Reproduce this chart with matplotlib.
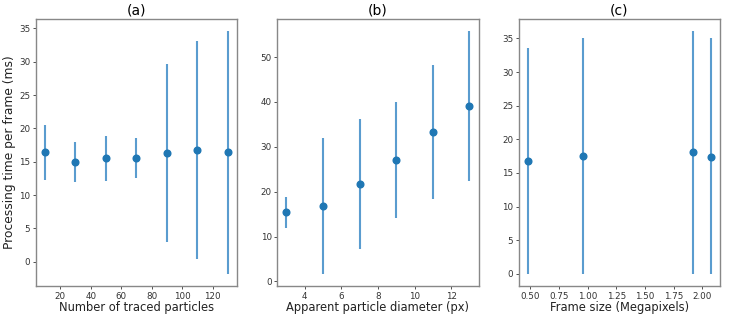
import numpy as np
import matplotlib.pyplot as plt

# (a) number of traced particles
n_particles = [10, 30, 50, 70, 90, 110, 130]
time_a = [16.4, 15.0, 15.5, 15.6, 16.3, 16.75, 16.4]
err_a = [4.15, 3.0, 3.4, 3.0, 13.4, 16.35, 18.2]

# (b) apparent particle diameter
diameter = [3, 5, 7, 9, 11, 13]
time_b = [15.4, 16.8, 21.8, 27.1, 33.3, 39.1]
err_b = [3.4, 15.1, 14.5, 12.9, 15.0, 16.7]

# (c) frame size, lower bars clipped at zero
frame_mp = [0.48, 0.96, 1.92, 2.0736]
time_c = [16.8, 17.55, 18.05, 17.45]
err_c_low = [16.8, 17.55, 18.05, 17.45]
err_c_up = [16.85, 17.5, 18.05, 17.6]

titles = ["(a)", "(b)", "(c)"]
xlabels = ["Number of traced particles",
           "Apparent particle diameter (px)",
           "Frame size (Megapixels)"]

fig, axes = plt.subplots(1, 3, figsize=(7.31, 3.16), dpi=100)
fig.subplots_adjust(left=0.049, right=0.985, top=0.94, bottom=0.095, wspace=0.2)

series = [
    (n_particles, time_a, err_a),
    (diameter, time_b, err_b),
    (frame_mp, time_c, [err_c_low, err_c_up]),
]

for ax, (x, y, e), title, xl in zip(axes, series, titles, xlabels):
    ax.errorbar(x, y, yerr=e, fmt='o', color='#1f77b4', ecolor='#5a9ccf',
                elinewidth=1.5, markersize=4.8)
    ax.set_title(title, fontsize=10, pad=3)
    ax.set_xlabel(xl, fontsize=8.3, labelpad=0.5, color='#222222')
    ax.tick_params(labelsize=6.3, colors='#333333', length=2.5, width=0.6, pad=1.5)
    for s in ax.spines.values():
        s.set_color('#888888')
        s.set_linewidth(1.0)

axes[0].set_ylabel("Processing time per frame (ms)", fontsize=8.8, labelpad=2,
                   color='#222222')
axes[0].set_xticks([20, 40, 60, 80, 100, 120])
axes[0].set_yticks(np.arange(0, 36, 5))
axes[1].set_xticks([4, 6, 8, 10, 12])
axes[1].set_yticks(np.arange(0, 51, 10))
axes[2].set_xticks([0.5, 0.75, 1.0, 1.25, 1.5, 1.75, 2.0])
axes[2].set_xticklabels(["0.50", "0.75", "1.00", "1.25", "1.50", "1.75", "2.00"])
axes[2].set_yticks(np.arange(0, 36, 5))

fig.savefig("out.png", dpi=100)
